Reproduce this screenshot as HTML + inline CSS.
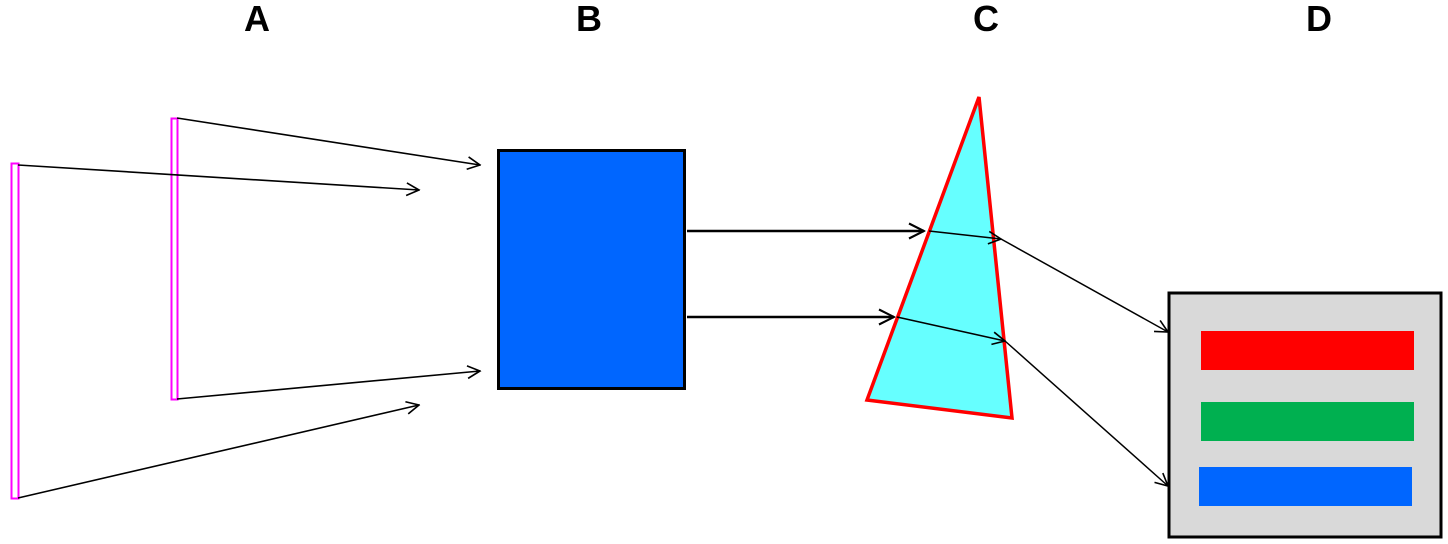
<!DOCTYPE html>
<html><head><meta charset="utf-8"><style>
html,body{margin:0;padding:0;background:#fff;}
svg{display:block;}
text{font-family:"Liberation Sans",sans-serif;font-weight:bold;font-size:36px;}
</style></head><body>
<svg width="1448" height="544" viewBox="0 0 1448 544">
<defs>
<marker id="a" viewBox="0 0 12 12" refX="11" refY="6" markerWidth="15" markerHeight="15" markerUnits="userSpaceOnUse" orient="auto">
<path d="M1,1 L11,6 L1,11" fill="none" stroke="#000" stroke-width="1.3"/>
</marker>
<marker id="b" viewBox="0 0 12 12" refX="11" refY="6" markerWidth="18" markerHeight="18" markerUnits="userSpaceOnUse" orient="auto">
<path d="M1,1 L11,6 L1,11" fill="none" stroke="#000" stroke-width="1.4"/>
</marker>
</defs>
<text x="257" y="31" text-anchor="middle">A</text>
<text x="589" y="31" text-anchor="middle">B</text>
<text x="986" y="31" text-anchor="middle">C</text>
<text x="1319" y="31" text-anchor="middle">D</text>

<rect x="11.5" y="163.5" width="7" height="335" fill="none" stroke="#ff00ff" stroke-width="2"/>
<rect x="171.5" y="118.5" width="6" height="281" fill="none" stroke="#ff00ff" stroke-width="2"/>
<g stroke="#000" stroke-width="1.6" fill="none" marker-end="url(#a)">
<line x1="18" y1="165" x2="419" y2="190"/>
<line x1="177" y1="118" x2="480" y2="165"/>
<line x1="177" y1="399" x2="480" y2="371"/>
<line x1="18" y1="498" x2="419" y2="405"/>
</g>

<rect x="498.5" y="150.5" width="186" height="238" fill="#0066ff" stroke="#000" stroke-width="3"/>

<polygon points="979,97 867,400 1012,418" fill="#66ffff" stroke="#ff0000" stroke-width="3.5" stroke-linejoin="miter"/>
<g stroke="#000" fill="none">
<line x1="687" y1="231" x2="924" y2="231" stroke-width="2.5" marker-end="url(#b)"/>
<line x1="687" y1="317" x2="894" y2="317" stroke-width="2.5" marker-end="url(#b)"/>
<line x1="929" y1="231" x2="1001" y2="239" stroke-width="1.6" marker-end="url(#a)"/>
<line x1="897" y1="317" x2="1005" y2="341" stroke-width="1.6" marker-end="url(#a)"/>
<line x1="1001" y1="239" x2="1168" y2="332" stroke-width="1.5" marker-end="url(#a)"/>
<line x1="1005" y1="341" x2="1168" y2="486" stroke-width="1.5" marker-end="url(#a)"/>
</g>

<rect x="1169" y="293" width="272" height="244" fill="#d9d9d9" stroke="#000" stroke-width="3"/>
<rect x="1201" y="331" width="213" height="39" fill="#ff0000"/>
<rect x="1201" y="402" width="213" height="39" fill="#00b050"/>
<rect x="1199" y="467" width="213" height="39" fill="#0066ff"/>
</svg>
</body></html>
